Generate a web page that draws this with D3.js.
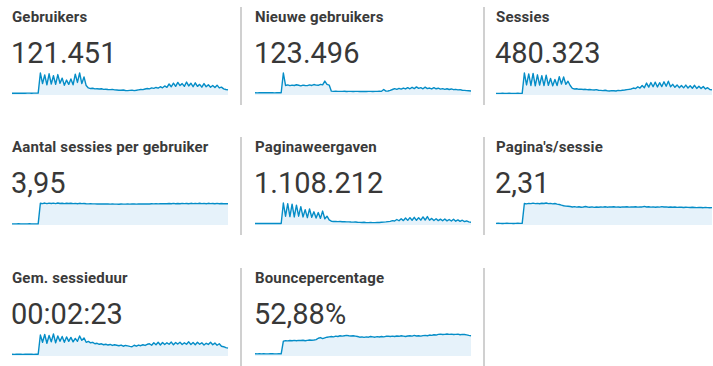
<!DOCTYPE html>
<html>
<head>
<meta charset="utf-8">
<script src="https://cdn.jsdelivr.net/npm/d3@7"></script>
<style>
  html, body { margin: 0; padding: 0; background: #fff; }
  svg { display: block; }
</style>
</head>
<body>
<svg id="chart" width="713" height="366"></svg>
<script>
// Metric names and their totals, in reading order (3 per row)
const metricNames = [
  "Gebruikers", "Nieuwe gebruikers", "Sessies",
  "Aantal sessies per gebruiker", "Paginaweergaven", "Pagina's/sessie",
  "Gem. sessieduur", "Bouncepercentage"
];
const metricTotals = [
  "121.451", "123.496", "480.323",
  "3,95", "1.108.212", "2,31",
  "00:02:23", "52,88%"
];

// Daily values per metric (100 days)
const gebruikers = [
  230, 235, 228, 240, 232, 236, 230, 238, 234, 231, 237, 233, 240,
  2800, 1450, 2550, 1300, 2700, 1400, 2450, 1350, 2600, 1500, 2150, 1250, 1900, 1350, 2050, 1300, 2650, 1600, 2800, 1450, 2300, 1200,
  900, 820, 860, 780, 800, 760, 790, 720, 740, 700, 690, 720, 650, 640, 610, 600, 640, 580, 560, 590, 620, 560, 600, 650, 700, 680,
  760, 820, 780, 900, 850, 960, 880, 1050, 920, 1150, 980, 1400, 1050, 1500, 1100, 1600, 1200, 1450, 1100, 1650, 1150, 1500, 1050, 1550, 1100, 1350, 1000, 1450, 1050, 1300, 980, 1200, 950, 1250, 900, 1000, 780, 700, 650
];
const nieuweGebruikers = [
  600, 590, 610, 605, 595, 600, 612, 598, 603, 590, 608, 600, 615,
  6000,
  2600, 2750, 2550, 2700, 2600, 2800, 2650, 2500, 2700, 2600, 2550, 2750, 2600, 2850, 2700, 2650, 2900, 2750, 3800, 2900, 2700,
  1050, 1000, 1020, 980, 1000, 990, 1010, 970, 990, 1000, 960, 980, 990, 970, 950, 980, 960, 1000, 990, 970, 1000, 980, 1020, 1000, 1500, 1050, 1100, 1250,
  1500, 1750, 1550, 1800, 1600, 1900, 1650, 2000, 1700, 2100, 1750, 2200, 1800, 2000, 1700, 2150, 1750, 1900, 1650, 2000, 1700, 1850, 1600, 1750, 1550, 1700, 1500, 1650, 1450, 1550, 1400, 1450, 1300, 1250, 1200, 1150, 1100
];
const sessies = [
  900, 910, 895, 920, 905, 900, 915, 898, 910, 902, 918, 905, 912,
  12000, 5500, 11500, 5200, 11800, 5000, 11000, 5400, 10500, 5100, 10800, 5300, 9000, 5000, 8500, 5200, 10000, 6000, 9800, 5800, 7500, 5200,
  3600, 3300, 3400, 3100, 3200, 3000, 3100, 2900, 3000, 2800, 2700, 2900, 2600, 2500, 2400, 2600, 2300, 2200, 2400, 2300, 2200, 2500, 2400, 2600, 2700, 2900, 3100, 3300,
  3800, 3500, 4500, 3800, 5200, 4000, 6500, 4300, 6800, 4500, 7000, 4400, 6700, 4600, 7200, 4800, 7500, 4500, 5800, 4200, 5500, 4000, 5200, 3900, 5400, 3800, 5000, 3700, 5300, 3600, 4800, 3500, 4600, 3300, 4000, 3000, 2800
];
const sessiesPerGebruiker = [
  0.22, 0.21, 0.22, 0.23, 0.22, 0.21, 0.22, 0.22, 0.23, 0.22, 0.21, 0.22, 0.22,
  4.12, 4.05, 4.15, 4.04, 4.14, 4.06, 4.13, 4.05, 4.16, 4.07, 4.12, 4.04, 4.10, 4.06, 4.12, 4.05, 4.08, 4.03, 4.10, 4.04, 4.06, 4.02,
  4.00, 4.01, 3.99, 4.00, 3.98, 3.99, 3.97, 3.98, 3.96, 3.97, 3.95, 3.96, 3.94, 3.95, 3.93, 3.96, 3.94, 3.95, 3.97, 3.94, 3.96, 3.98, 3.95, 3.97, 3.99, 3.96, 3.98, 4.00,
  3.98, 4.02, 3.99, 4.03, 4.00, 4.05, 4.01, 4.04, 4.02, 4.06, 4.01, 4.08, 4.03, 4.06, 4.02, 4.09, 4.04, 4.07, 4.03, 4.10, 4.05, 4.08, 4.04, 4.11, 4.05, 4.08, 4.03, 4.10, 4.04, 4.07, 4.02, 4.08, 4.03, 4.06, 4.02, 4.05, 4.03
];
const paginaweergaven = [
  2000, 2050, 1980, 2020, 2000, 2040, 1990, 2010, 2030, 1995, 2025, 2005, 2015,
  30000, 12000, 29000, 11500, 28500, 11000, 27000, 12000, 25000, 11000, 21000, 10000, 22000, 10500, 18000, 9500, 17000, 9000, 19000, 8500, 12000, 7000,
  5200, 4800, 5000, 4600, 4700, 4400, 4500, 4200, 4300, 4000, 3900, 4100, 3700, 3600, 3500, 3700, 3300, 3200, 3400, 3300, 3200, 3500, 3400, 3700, 3900, 4200, 4600, 5000,
  6000, 5400, 7500, 5800, 8500, 6000, 9500, 6300, 10000, 6500, 10500, 6400, 10000, 6600, 11000, 6800, 11500, 6500, 9000, 6200, 8500, 6000, 8000, 5800, 8300, 5600, 7500, 5400, 7800, 5200, 7000, 5000, 6500, 4600, 5500, 4200, 3800
];
const paginasPerSessie = [
  0.20, 0.21, 0.20, 0.19, 0.20, 0.21, 0.20, 0.20, 0.19, 0.20, 0.21, 0.20, 0.20,
  2.62, 2.58, 2.64, 2.60, 2.66, 2.61, 2.63, 2.59, 2.65, 2.62, 2.68, 2.60, 2.64, 2.58, 2.62, 2.55, 2.50, 2.42, 2.35, 2.30, 2.28, 2.25,
  2.20, 2.24, 2.18, 2.22, 2.16, 2.20, 2.25, 2.19, 2.17, 2.21, 2.15, 2.19, 2.16, 2.20, 2.18, 2.22, 2.17, 2.21, 2.19, 2.23, 2.18, 2.20, 2.17, 2.21, 2.19, 2.22, 2.18, 2.20,
  2.19, 2.23, 2.18, 2.21, 2.20, 2.26, 2.19, 2.22, 2.18, 2.21, 2.17, 2.20, 2.18, 2.24, 2.19, 2.21, 2.17, 2.20, 2.16, 2.19, 2.15, 2.18, 2.16, 2.14, 2.17, 2.15, 2.13, 2.16, 2.14, 2.12, 2.15, 2.13, 2.11, 2.14, 2.12, 2.10, 2.12
];
const sessieduur = [
  18, 17, 18, 19, 18, 17, 18, 18, 19, 18, 17, 18, 18,
  215, 140, 220, 130, 210, 145, 225, 135, 205, 150, 200, 140, 195, 150, 190, 145, 180, 150, 205, 160, 185, 140,
  150, 135, 140, 125, 130, 120, 125, 115, 120, 112, 118, 108, 115, 110, 105, 112, 100, 108, 104, 98, 95, 110, 100, 112, 105, 115, 108, 120,
  125, 110, 135, 115, 140, 112, 138, 118, 135, 120, 142, 115, 138, 122, 140, 118, 135, 120, 145, 118, 138, 115, 140, 120, 135, 112, 130, 118, 140, 115, 132, 110, 125, 100, 95, 85, 80
];
const bouncepercentage = [
  6.2, 6.0, 6.3, 6.1, 6.2, 6.0, 6.1, 6.3, 6.2, 6.1, 6.0, 6.2, 6.1,
  42, 43, 42.5, 43.5, 43, 44, 43, 44, 43.5, 44.5, 43, 44, 45, 44.5, 45, 46,
  50, 52, 49, 51, 53, 54,
  55, 54, 56, 55, 57, 56, 57, 58, 57, 56.5, 57, 56, 55,
  53, 54, 52.5, 54, 53, 55, 54, 53, 54.5, 53.5, 55, 54, 55.5, 56,
  55, 56, 55, 56.5, 55.5, 57, 56, 55, 56.5, 57, 56, 58, 56.5, 57, 56, 57.5, 58, 57, 59, 58, 60, 59, 61,
  61.5, 60.5, 61, 62, 61, 61.5, 60.5, 61, 61.5, 60, 61, 60.5, 59.5, 58, 57
];

const metricSeries = [
  gebruikers, nieuweGebruikers, sessies,
  sessiesPerGebruiker, paginaweergaven, paginasPerSessie,
  sessieduur, bouncepercentage
];

// Layout of the 3x3 grid of metric cells
const colX = [12, 255, 496];
const rowY = [0, 130, 261];
const sparkWidth = 216;
const dividerX = [241, 484];

const svg = d3.select("#chart");

// Vertical separators between the cells of each row
rowY.forEach(ry => {
  dividerX.forEach(dx => {
    svg.append("line")
      .attr("x1", dx).attr("x2", dx)
      .attr("y1", ry + 7).attr("y2", ry + 105)
      .attr("stroke", "#d0d0d0")
      .attr("stroke-width", 2);
  });
});

metricNames.forEach((name, i) => {
  const c = i % 3, r = Math.floor(i / 3);
  const g = svg.append("g")
    .attr("transform", `translate(${colX[c]},${rowY[r]})`);

  g.append("text")
    .attr("x", 0).attr("y", 22)
    .attr("font-family", "Roboto, 'Open Sans', sans-serif")
    .attr("font-size", 15)
    .attr("font-weight", 700)
    .attr("letter-spacing", 0.15)
    .attr("fill", "#3a3a3a")
    .text(name);

  g.append("text")
    .attr("x", -1).attr("y", 63)
    .attr("font-family", "Roboto, 'Open Sans', sans-serif")
    .attr("font-size", 29)
    .attr("font-weight", 400)
    .attr("fill", "#383838")
    .text(metricTotals[i]);

  const values = metricSeries[i];
  const x = d3.scaleLinear()
    .domain([0, values.length - 1])
    .range([0, sparkWidth]);
  const y = d3.scaleLinear()
    .domain([0, d3.max(values)])
    .range([95, 73]);

  const area = d3.area()
    .x((d, k) => x(k))
    .y0(y(0))
    .y1(d => y(d));
  const line = d3.line()
    .x((d, k) => x(k))
    .y(d => y(d));

  g.append("path")
    .datum(values)
    .attr("d", area)
    .attr("fill", "#e6f2fa");

  g.append("path")
    .datum(values)
    .attr("d", line)
    .attr("fill", "none")
    .attr("stroke", "#058dc7")
    .attr("stroke-width", 1.4)
    .attr("stroke-linejoin", "round");
});
</script>
</body>
</html>
